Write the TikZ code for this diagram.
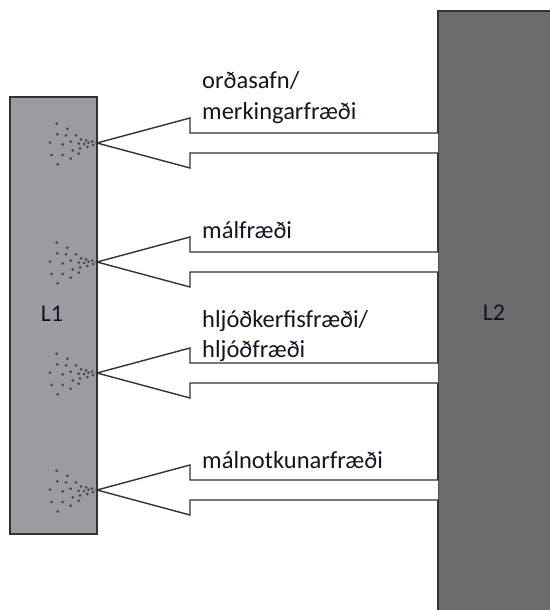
\documentclass[tikz,border=0pt]{standalone}
\usepackage{fontspec}
\setmainfont{Carlito}
\definecolor{lonefill}{RGB}{156,156,160}
\definecolor{ltwofill}{RGB}{108,108,110}
\definecolor{edgecol}{RGB}{50,50,50}
\definecolor{txtcol}{RGB}{20,20,35}
\tikzset{
  panel/.style={draw=edgecol, line width=1.5bp, inner sep=0pt, outer sep=0pt},
  blockarrow/.style={draw=edgecol, line width=1.4bp, fill=white, line join=miter},
  lbl/.style={font=\fontsize{24.5bp}{31bp}\selectfont, text=txtcol, anchor=base west, inner sep=0pt},
  spot/.style={fill=edgecol!90, draw=none},
  boxlbl/.style={font=\fontsize{24bp}{29bp}\selectfont, text=txtcol, inner sep=0pt}
}
\newcommand{\spray}[1]{%
  \foreach \dx/\dy in {-40.3/-19.3,-29.7/-14.3,-39.7/-8.7,-31/-7.7,-21/-7.7,-16/-3.7,-47/-0.3,-34.3/1.3,-26.3/-1.3,-18.3/0.7,-11/-2.7,-8.7/-0.3,-24.3/7.3,-17/5.3,-9.7/4,-45.3/12,-34.3/12,-26.3/15.7,-18.3/10.7,-39.3/21.3,-5/-1.5,-4/2,-13/1}{
    \fill[spot] ($(#1)+(\dx,\dy)$) circle (1.5bp);
  }%
}
\usetikzlibrary{calc}
\begin{document}
\begin{tikzpicture}[x=1bp,y=-1bp]
\clip (0,0) rectangle (550,610);
\useasboundingbox (0,0) rectangle (550,610);
\fill[white] (0,0) rectangle (550,610);
% panels
\node[panel, fill=lonefill, minimum width=87bp, minimum height=437bp, anchor=north west] (L1) at (10,97) {};
\node[panel, fill=ltwofill, minimum width=130bp, minimum height=620bp, anchor=north west] (L2) at (438,11) {};
\node[boxlbl] (t1) at (52,314) {L1};
\node[boxlbl] (t2) at (494,313) {L2};
% arrows
\foreach \c/\n in {143/a,262/b,373/c,490/d}{
  \coordinate (tip\n) at (L1.east |- 0,\c);
  \coordinate (end\n) at (L2.west |- 0,\c);
  \draw[blockarrow] ($(end\n)+(0,-10)$) -- (190,\c-10) -- (190,\c-25) -- (tip\n)
        -- (190,\c+25) -- (190,\c+10) -- ($(end\n)+(0,10)$);
}
\spray{tipa}
\spray{tipb}
\spray{tipc}
\spray{tipd}
% labels
\node[lbl] (la1) at (202,89) {orðasafn/};
\node[lbl] (la2) at (202,120) {merkingarfræði};
\node[lbl] (lb) at (202,238) {málfræði};
\node[lbl] (lc1) at (202,327) {hljóðkerfisfræði/};
\node[lbl] (lc2) at (202,357) {hljóðfræði};
\node[lbl] (ld) at (202,468) {málnotkunarfræði};
\end{tikzpicture}
\end{document}
